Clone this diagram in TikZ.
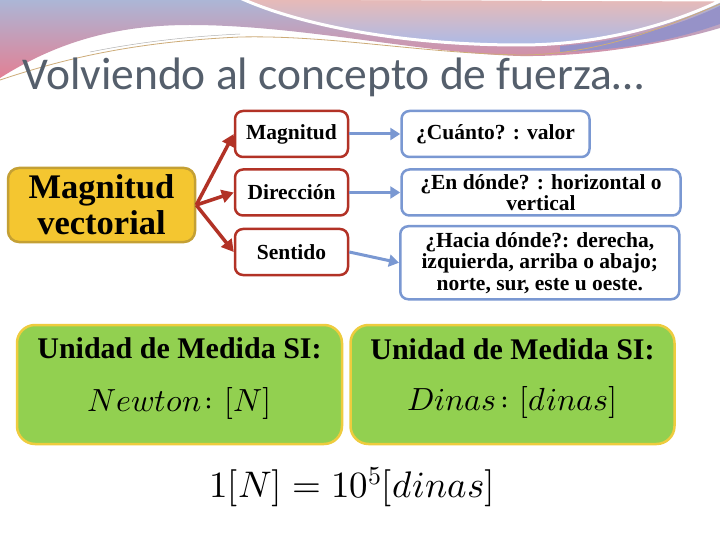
\documentclass[tikz,border=0pt]{standalone}
\usepackage{fontspec}
\usepackage{unicode-math}
\setmainfont{Liberation Serif}
\setmathfont{Latin Modern Math}
\newfontfamily\titlefont{Carlito}
\usetikzlibrary{arrows.meta,positioning}
\definecolor{titlegrey}{RGB}{85,95,108}
\definecolor{goldfill}{RGB}{244,198,48}
\definecolor{golddraw}{RGB}{196,160,52}
\definecolor{featred}{RGB}{178,50,38}
\definecolor{ansblue}{RGB}{122,152,210}
\definecolor{unitgreen}{RGB}{146,208,80}
\definecolor{unityellow}{RGB}{238,204,62}
\definecolor{swooshblue}{RGB}{172,182,214}
\definecolor{swooshpink}{RGB}{226,128,148}
\definecolor{swooshpeach}{RGB}{233,186,182}
\definecolor{swooshsky}{RGB}{172,186,230}
\definecolor{swooshviolet}{RGB}{150,146,200}
\definecolor{swooshline}{RGB}{205,172,120}

\begin{document}
\begin{tikzpicture}[
    x=1pt, y=-1pt,
    concept/.style={draw=golddraw, fill=goldfill, line width=2.5pt, rounded corners=11pt, align=center,
      minimum width=187pt, minimum height=74pt, font=\fontsize{34.5}{36}\selectfont\bfseries},
    feature/.style={draw=featred, fill=white, line width=2.5pt, rounded corners=8pt, align=center,
      minimum width=113pt, minimum height=46pt, font=\fontsize{21.5}{22}\selectfont\bfseries},
    answer/.style={draw=ansblue, fill=white, line width=2.5pt, rounded corners=8pt, align=center,
      minimum height=46pt, font=\fontsize{21.5}{21.5}\selectfont\bfseries, inner sep=2pt},
    unitbox/.style={draw=unityellow, fill=unitgreen, line width=2.5pt, rounded corners=18pt, align=center,
      minimum width=325pt, minimum height=119pt},
    redarrow/.style={-{Triangle[length=12pt,width=13pt]}, featred, line width=3.5pt},
    bluearrow/.style={-{Triangle[length=10pt,width=12pt]}, ansblue, line width=3pt}
]
\useasboundingbox (0,0) rectangle (720,540);
\fill[white] (0,0) rectangle (720,540);

% top swoosh
\shade[top color=swooshblue, bottom color=swooshpink]
  (0,0) -- (720,0) -- (720,28) .. controls (680,40) and (600,57) .. (520,56)
  .. controls (420,53) and (300,25) .. (190,25) .. controls (120,25) and (60,40) .. (0,78) -- cycle;
\fill[swooshviolet] (560,46) .. controls (640,40) and (690,20) .. (720,6) -- (720,24)
  .. controls (680,38) and (630,50) .. (560,52) -- cycle;
\shade[top color=swooshpeach, bottom color=swooshsky, draw=white, line width=3pt]
  (240,-2) .. controls (300,25) and (400,45) .. (520,45) .. controls (600,45) and (670,25) .. (722,0) -- cycle;
\draw[swooshline, line width=0.8pt] (0,80) .. controls (60,60) and (130,42) .. (240,37)
  .. controls (330,35) and (420,53) .. (520,55) .. controls (600,55) and (670,25) .. (720,4);
\draw[gray!60, line width=0.5pt] (90,52) .. controls (150,40) and (200,36) .. (240,34);

% title
\node[anchor=base west, text=titlegrey, font=\titlefont\fontsize{45.5}{48}\selectfont, inner sep=0pt]
  (title) at (22,90) {Volviendo al concepto de fuerza…};

% concept and its three features
\node[concept] (vector) at (101.5,205) {Magnitud\\vectorial};
\node[feature] (mag) at (291.5,134) {Magnitud};
\node[feature, below=10pt of mag] (dir) {Dirección};
\node[feature, below=11pt of dir] (sen) {Sentido};

% answers
\node[answer, minimum width=188pt, right=51pt of mag] (cuanto) {¿Cuánto? : valor};
\node[answer, minimum width=279pt, right=51pt of dir] (donde) {¿En dónde? : horizontal o\\vertical};
\node[answer, minimum width=279pt, minimum height=73pt, anchor=north west] (hacia) at (399,225)
  {¿Hacia dónde?: derecha,\\izquierda, arriba o abajo;\\norte, sur, este u oeste.};

% units
\node[unitbox] (newton) at (179.5,384.5) {{\fontsize{30}{32}\selectfont\bfseries Unidad de Medida SI:}\\[27pt]
  {\fontsize{32}{34}\selectfont $Newton\colon[N]$\rule[-20pt]{0pt}{20pt}}};
\node[unitbox, minimum width=324pt, right=6pt of newton] (dinas) {{\fontsize{30}{32}\selectfont\bfseries Unidad de Medida SI:}\\[25pt]
  {\fontsize{32}{34}\selectfont $Dinas\colon[dinas]$\rule[-20pt]{0pt}{20pt}}};
\node[font=\fontsize{37}{40}\selectfont] (equiv) at (352,487) {$1[N]=10^5[dinas]$};

\draw[redarrow] (vector.east) -- (mag.west);
\draw[redarrow] (vector.east) -- (dir.west);
\draw[redarrow] (vector.east) -- (sen.west);
\draw[bluearrow] (mag) -- (cuanto);
\draw[bluearrow] (dir) -- (donde);
\draw[bluearrow] (sen.east) -- (hacia.west);

\end{tikzpicture}
\end{document}
